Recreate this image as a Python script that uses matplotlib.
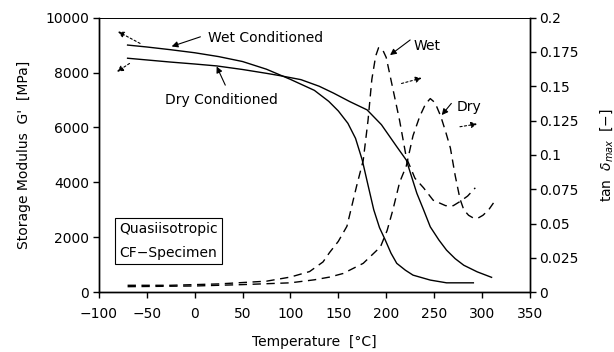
import matplotlib.pyplot as plt

# Storage modulus G' [MPa]
t_wet_mod = [-70, -50, -25, 0, 25, 50, 75, 100, 125, 140, 150, 160, 168, 175,
             181, 187, 193, 199, 205, 211, 220, 228, 246, 263, 291]
g_wet = [9000, 8930, 8830, 8720, 8580, 8400, 8120, 7750, 7350, 6950, 6600,
         6150, 5600, 4810, 3900, 3000, 2350, 1900, 1420, 1050, 800, 620, 440,
         340, 340]

t_dry_mod = [-70, -25, 0, 23, 50, 75, 90, 111, 130, 145, 162, 180, 195, 211,
             221, 232, 239, 246, 255, 263, 272, 281, 295, 310]
g_dry = [8520, 8380, 8310, 8240, 8110, 7970, 7880, 7740, 7500, 7250, 6940,
         6640, 6100, 5300, 4810, 3600, 3000, 2380, 1900, 1530, 1220, 980, 740,
         540]

# tan delta
t_wet_tan = [-70, -25, 0, 25, 50, 75, 100, 120, 134, 141, 150, 159, 169, 176,
             181, 185, 189, 192, 196, 200, 207, 214, 221, 230, 239, 249, 262,
             270, 277, 285, 293]
tan_wet = [0.005, 0.005, 0.0055, 0.006, 0.007, 0.008, 0.011, 0.015, 0.022,
           0.029, 0.037, 0.048, 0.077, 0.096, 0.125, 0.155, 0.172, 0.178,
           0.177, 0.171, 0.148, 0.125, 0.098, 0.083, 0.076, 0.067, 0.063,
           0.063, 0.066, 0.070, 0.076]

t_dry_tan = [-70, 0, 50, 100, 125, 141, 155, 176, 194, 201, 207, 214, 221,
             228, 235, 241, 246, 251, 257, 262, 267, 272, 277, 281, 286, 291,
             296, 301, 307, 312]
tan_dry = [0.004, 0.0045, 0.0055, 0.0068, 0.009, 0.011, 0.0136, 0.021, 0.033,
           0.045, 0.060, 0.080, 0.092, 0.114, 0.128, 0.137, 0.141, 0.138,
           0.128, 0.117, 0.105, 0.085, 0.068, 0.060, 0.056, 0.054, 0.054,
           0.056, 0.060, 0.065]

x_ticks = list(range(-100, 351, 50))
y_ticks = list(range(0, 10001, 2000))
tan_ticks = [0, 0.025, 0.05, 0.075, 0.1, 0.125, 0.15, 0.175, 0.2]
tan_labels = ['0', '0.025', '0.05', '0.075', '0.1', '0.125', '0.15', '0.175', '0.2']

plt.rcParams['font.family'] = 'DejaVu Sans'
plt.rcParams['font.size'] = 10

fig = plt.figure(figsize=(6.14, 3.52), dpi=100)
ax = fig.add_axes([0.161, 0.170, 0.702, 0.780])
ax2 = ax.twinx()

dash = (0, (6, 4))
ax.plot(t_wet_mod, g_wet, color='black', lw=1.0)
ax.plot(t_dry_mod, g_dry, color='black', lw=1.0)
ax2.plot(t_wet_tan, tan_wet, color='black', lw=1.0, ls=dash)
ax2.plot(t_dry_tan, tan_dry, color='black', lw=1.0, ls=dash)

ax.set_xlim(-100, 350)
ax.set_ylim(0, 10000)
ax2.set_ylim(0, 0.2)
ax.set_xticks(x_ticks)
ax.set_xticklabels([str(v).replace('-', '\u2212') for v in x_ticks])
ax.set_yticks(y_ticks)
ax2.set_yticks(tan_ticks)
ax2.set_yticklabels(tan_labels)

for a in (ax, ax2):
    a.tick_params(direction='out', length=4, width=1.0, pad=3, labelsize=10)
    for s in a.spines.values():
        s.set_linewidth(1.0)
ax.tick_params(axis='x', pad=7)
ax.spines['top'].set_linewidth(0.6)
ax2.spines['top'].set_linewidth(0.6)

ax.set_xlabel('Temperature  [\u00b0C]', labelpad=10)
ax.set_ylabel("Storage Modulus  G'  [MPa]", labelpad=10)
ax2.set_ylabel(r'tan  $\delta_{max}$  [$-$]', labelpad=14)

arr = dict(arrowstyle='-|>', color='black', lw=0.8, mutation_scale=9,
           shrinkA=0, shrinkB=0)
arr_dot = dict(arrowstyle='-|>', color='black', lw=0.8, mutation_scale=9,
               shrinkA=0, shrinkB=0, ls=(0, (2, 2)))

ax.text(14, 9250, 'Wet Conditioned', va='center', ha='left')
ax.annotate('', xy=(-24, 8950), xytext=(6, 9300), arrowprops=arr)
ax.text(-31, 7000, 'Dry Conditioned', va='center', ha='left')
ax.annotate('', xy=(23, 8220), xytext=(32, 7540), arrowprops=arr)

ax.annotate('', xy=(-80, 9490), xytext=(-57, 9060), arrowprops=arr_dot)
ax.annotate('', xy=(-81, 8030), xytext=(-68, 8330), arrowprops=arr_dot)

ax2.text(229, 0.179, 'Wet', va='center', ha='left')
ax2.annotate('', xy=(204, 0.1727), xytext=(225, 0.1837), arrowprops=arr)
ax2.text(273, 0.135, 'Dry', va='center', ha='left')
ax2.annotate('', xy=(258, 0.129), xytext=(268, 0.1375), arrowprops=arr)

ax2.annotate('', xy=(237, 0.156), xytext=(216, 0.152), arrowprops=arr_dot)
ax2.annotate('', xy=(295, 0.1225), xytext=(277, 0.1205), arrowprops=arr_dot)

ax.text(-79, 2550, 'Quasiisotropic\nCF\u2212Specimen', va='top', ha='left',
        linespacing=1.9,
        bbox=dict(boxstyle='square,pad=0.3', fc='white', ec='black', lw=0.8))

fig.savefig('out.png', dpi=100)
